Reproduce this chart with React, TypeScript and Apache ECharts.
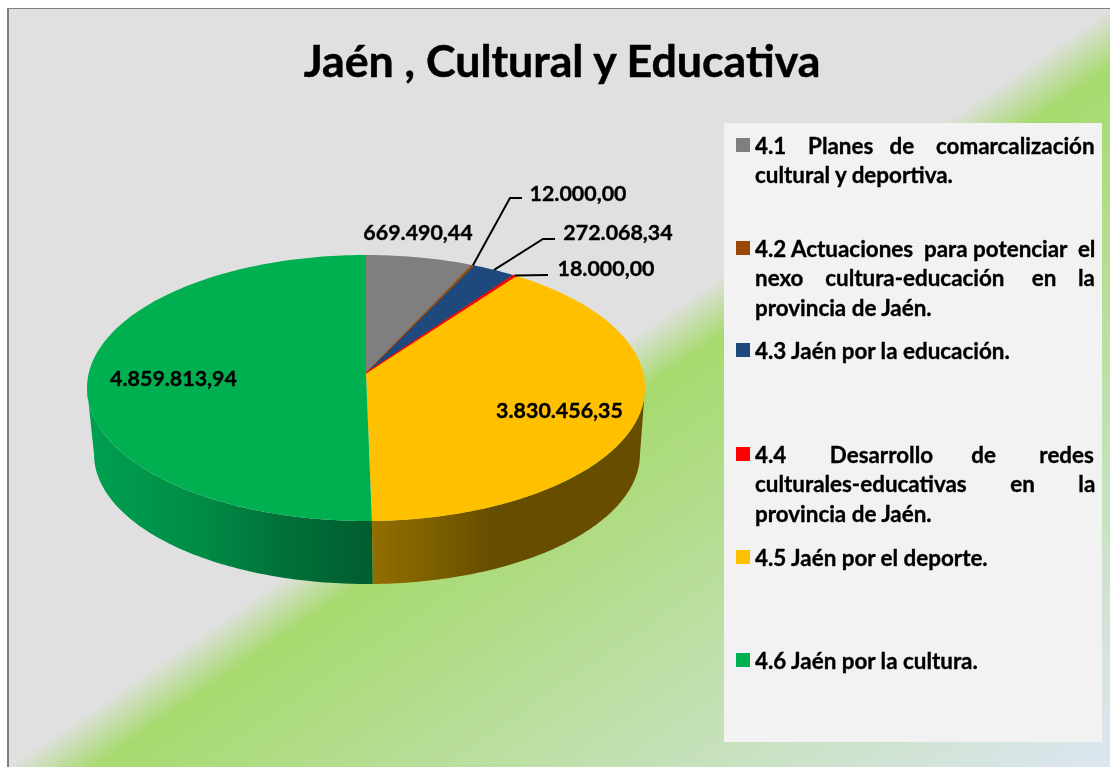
import React, { useEffect, useRef } from "react";
import * as echarts from "echarts";

const titleText = "Jaén , Cultural y Educativa";
const categories = [
  "4.1 Planes de comarcalización cultural y deportiva.",
  "4.2 Actuaciones para potenciar el nexo cultura-educación en la provincia de Jaén.",
  "4.3 Jaén por la educación.",
  "4.4 Desarrollo de redes culturales-educativas en la provincia de Jaén.",
  "4.5 Jaén por el deporte.",
  "4.6 Jaén por la cultura.",
];
const values = [669490.44, 12000.0, 272068.34, 18000.0, 3830456.35, 4859813.94];
const colors = ["#7f7f7f", "#974806", "#1f497d", "#ff0000", "#ffc000", "#00b050"];
const legendLines = [
  ["4.1 Planes de comarcalización", "cultural y deportiva."],
  ["4.2 Actuaciones para potenciar el", "nexo cultura-educación en la", "provincia de Jaén."],
  ["4.3 Jaén por la educación."],
  ["4.4 Desarrollo de redes", "culturales-educativas en la", "provincia de Jaén."],
  ["4.5 Jaén por el deporte."],
  ["4.6 Jaén por la cultura."],
];

const FONT = "Lato";
const LABEL_SIZE = 21.4;
const LEGEND_SIZE = 22.4;
const HEAVY = 0.35;

const top = { cx: 366, cy: 388, rx: 279, ry: 133 };
const bottom = { cx: 367, cy: 454, rx: 273, ry: 130 };
const apex: [number, number] = [366, 373];
const K = 0.893;

// Label placement: text centre, then optional elbow of the leader line.
const labelPlace: { x: number; y: number; elbow?: [number, number]; end?: [number, number] }[] = [
  { x: 418, y: 232 },
  { x: 578, y: 193, elbow: [510, 198], end: [522, 198] },
  { x: 618, y: 232, elbow: [543, 239], end: [555, 239] },
  { x: 606, y: 268, elbow: [548, 275], end: [548, 275] },
  { x: 559.5, y: 410 },
  { x: 173.5, y: 378 },
];

const wallStops: Record<number, [number, string][]> = {
  4: [[0, "#936e00"], [0.25, "#7a5c00"], [0.45, "#664d00"], [1, "#664d00"]],
  5: [[0, "#00a050"], [0.4, "#008c46"], [0.7, "#007038"], [1, "#005c2e"]],
};

const total = values.reduce((a, b) => a + b, 0);
const fmt = (v: number) => {
  const [i, d] = v.toFixed(2).split(".");
  return i.replace(/\B(?=(\d{3})+$)/g, ".") + "," + d;
};
// Perspective: true pie angle -> parameter on the projected ellipse.
const project = (theta: number) => {
  const t = theta / 2;
  if (Math.abs(t - Math.PI / 2) < 1e-6) return theta;
  let phi = 2 * Math.atan(K * Math.tan(t));
  if (phi < 0) phi += 2 * Math.PI;
  return phi;
};
const onEll = (e: typeof top, phi: number): [number, number] => [
  e.cx + e.rx * Math.sin(phi),
  e.cy - e.ry * Math.cos(phi),
];
const arcPts = (e: typeof top, a: number, b: number) => {
  const n = Math.max(2, Math.ceil(((b - a) * 180) / Math.PI));
  const out: [number, number][] = [];
  for (let i = 0; i <= n; i++) out.push(onEll(e, a + ((b - a) * i) / n));
  return out;
};

function justify(line: string, width: number, ctx: CanvasRenderingContext2D) {
  const words = line.split(" ");
  const used = words.reduce((s, w) => s + ctx.measureText(w).width, 0);
  const sp = ctx.measureText("\u00a0").width;
  const gap = (width - used) / (words.length - 1);
  let out = words[0];
  let err = 0;
  for (let i = 1; i < words.length; i++) {
    const want = gap + err;
    const n = Math.max(1, Math.round(want / sp));
    err = want - n * sp;
    out += "\u00a0".repeat(n) + words[i];
  }
  return out;
}

export default function App() {
  const ref = useRef<HTMLDivElement>(null);
  useEffect(() => {
    document.body.style.margin = "0";
    document.body.style.overflow = "hidden";
    const chart = echarts.init(ref.current!, null, { renderer: "svg" });
    const ctx = document.createElement("canvas").getContext("2d")!;
    ctx.font = `bold ${LEGEND_SIZE}px ${FONT}`;

    const legendGraphics: any[] = [];
    const rowY = [145, 248, 350, 454, 557, 660];
    legendLines.forEach((lines, i) => {
      legendGraphics.push({
        type: "rect",
        shape: { x: 736, y: rowY[i] - 7, width: 14, height: 14 },
        style: { fill: colors[i] },
        z: 3,
      });
      lines.forEach((line, j) => {
        const just = j < lines.length - 1;
        legendGraphics.push({
          type: "text",
          x: 755,
          y: rowY[i] + j * 29.5,
          z: 3,
          style: {
            text: just ? justify(line, 339, ctx) : line,
            fill: "#000",
            stroke: "#000",
            lineWidth: HEAVY,
            fontFamily: FONT,
            fontWeight: "bold",
            fontSize: LEGEND_SIZE,
            textAlign: "left",
            textVerticalAlign: "middle",
          },
        });
      });
    });

    let cum = 0;
    const ranges = values.map((v) => {
      const a = (cum / total) * 2 * Math.PI;
      cum += v;
      return [a, (cum / total) * 2 * Math.PI];
    });

    chart.setOption({
      animation: false,
      title: {
        text: titleText,
        left: 557,
        top: 32,
        textAlign: "center",
        textStyle: {
          fontFamily: FONT,
          fontWeight: "bold",
          fontSize: 44.7,
          color: "#000",
          textBorderColor: "#000",
          textBorderWidth: 0.5,
        },
      },
      graphic: [
        {
          type: "rect",
          z: -2,
          shape: { x: 7, y: 8, width: 1103, height: 759 },
          style: {
            fill: new echarts.graphic.LinearGradient(0, 0, 1, 1, [
              { offset: 0, color: "#e0e0e0" },
              { offset: 0.5, color: "#e0e0e0" },
              { offset: 0.54, color: "#a7da6f" },
              { offset: 1, color: "#dce6f2" },
            ]),
          },
        },
        { type: "rect", z: -1, shape: { x: 7, y: 8, width: 2, height: 759 }, style: { fill: "#7f7f7f" } },
        { type: "rect", z: -1, shape: { x: 7, y: 8, width: 1103, height: 1 }, style: { fill: "#7f7f7f" } },
        {
          type: "rect",
          z: 2,
          shape: { x: 724, y: 123, width: 378, height: 619 },
          style: { fill: "#f2f2f2" },
        },
        ...legendGraphics,
      ],
      series: [
        {
          type: "custom",
          coordinateSystem: "none",
          name: titleText,
          z: 5,
          data: values.map((v, i) => ({ name: categories[i], value: v })),
          renderItem: (params: any, api: any) => {
            const i = params.dataIndex;
            const v = api.value(0);
            const [a0, a1] = ranges[i];
            const p0 = project(a0);
            const p1 = a1 >= 2 * Math.PI - 1e-9 ? 2 * Math.PI : project(a1);
            const children: any[] = [];
            const vis0 = Math.max(p0, Math.PI / 2);
            const vis1 = Math.min(p1, (3 * Math.PI) / 2);
            if (vis1 > vis0) {
              const upper = arcPts(top, vis0, vis1);
              const lower = arcPts(bottom, vis0, vis1).reverse();
              const stops = wallStops[i] || [[0, colors[i]], [1, colors[i]]];
              children.push({
                type: "polygon",
                shape: { points: [...upper, ...lower] },
                style: {
                  fill: new echarts.graphic.LinearGradient(
                    0, 0, 1, 0,
                    stops.map(([offset, color]) => ({ offset, color }))
                  ),
                },
              });
            }
            const thin = v / total < 0.01;
            children.push({
              type: "polygon",
              z2: thin ? 5 : 1,
              shape: { points: [apex, ...arcPts(top, p0, p1)] },
              style: { fill: colors[i], stroke: thin ? colors[i] : "none", lineWidth: thin ? 1 : 0 },
            });
            const place = labelPlace[i];
            if (place.elbow) {
              const mid = onEll(top, project((a0 + a1) / 2));
              children.push({
                type: "polyline",
                z2: 10,
                shape: { points: [mid, place.elbow, place.end] },
                style: { stroke: "#000", lineWidth: 2, fill: "none" },
              });
            }
            children.push({
              type: "text",
              z2: 20,
              style: {
                text: fmt(v),
                x: place.x,
                y: place.y,
                fill: "#000",
                stroke: "#000",
                lineWidth: HEAVY,
                fontFamily: FONT,
                fontWeight: "bold",
                fontSize: LABEL_SIZE,
                textAlign: "center",
                textVerticalAlign: "middle",
              },
            });
            return { type: "group", children };
          },
        },
      ],
    });
    return () => chart.dispose();
  }, []);
  return <div ref={ref} style={{ position: "fixed", left: 0, top: 0, width: 1110, height: 767 }} />;
}
